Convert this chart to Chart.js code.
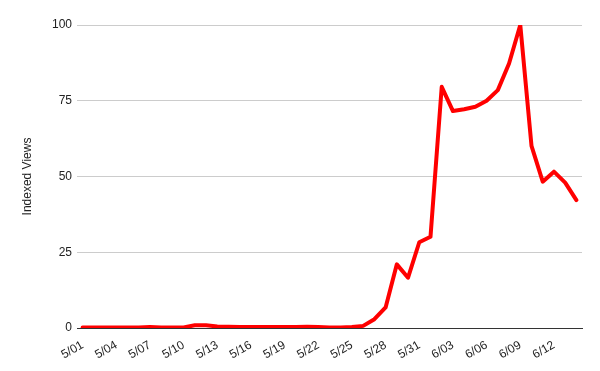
<!DOCTYPE html>
<html>
<head>
<meta charset="utf-8">
<script src="https://cdn.jsdelivr.net/npm/chart.js@4"></script>
<style>
  html, body { margin: 0; padding: 0; background: #fff; }
  #wrap { width: 600px; height: 371px; }
</style>
</head>
<body>
<div id="wrap"><canvas id="myChart" width="600" height="371"></canvas></div>
<script>
// dates, one per day
var dates = [
  "5/01", "5/02", "5/03", "5/04", "5/05", "5/06", "5/07", "5/08", "5/09", "5/10",
  "5/11", "5/12", "5/13", "5/14", "5/15", "5/16", "5/17", "5/18", "5/19", "5/20",
  "5/21", "5/22", "5/23", "5/24", "5/25", "5/26", "5/27", "5/28", "5/29", "5/30",
  "5/31", "6/01", "6/02", "6/03", "6/04", "6/05", "6/06", "6/07", "6/08", "6/09",
  "6/10", "6/11", "6/12", "6/13", "6/14"
];
// indexed views
var views = [
  0.2, 0.2, 0.2, 0.2, 0.2, 0.2, 0.3, 0.2, 0.2, 0.2,
  0.9, 0.9, 0.5, 0.4, 0.3, 0.3, 0.3, 0.3, 0.3, 0.3,
  0.4, 0.3, 0.2, 0.2, 0.3, 0.7, 2.9, 6.8, 21.0, 16.6,
  28.3, 30.1, 79.6, 71.6, 72.2, 73.0, 75.0, 78.5, 87.3, 100,
  60.1, 48.3, 51.6, 48.0, 42.2
];
var yTicks = [0, 25, 50, 75, 100];

var ctx = document.getElementById("myChart").getContext("2d");
var chart = new Chart(ctx, {
  type: "line",
  data: {
    labels: dates,
    datasets: [
      {
        label: "Indexed Views",
        data: views,
        borderColor: "#ff0000",
        backgroundColor: "#ff0000",
        borderWidth: 4,
        pointRadius: 0,
        tension: 0,
        borderJoinStyle: "round",
        borderCapStyle: "round",
      },
    ],
  },
  options: {
    responsive: false,
    animation: false,
    layout: { padding: { top: 25, right: 18, left: 0, bottom: 0 } },
    plugins: {
      legend: { display: false },
      tooltip: { enabled: false },
    },
    scales: {
      x: {
        offset: true,
        grid: { display: false },
        border: { display: true, color: "#333333", width: 1 },
        ticks: {
          autoSkip: false,
          minRotation: 30,
          maxRotation: 30,
          color: "#222222",
          font: { family: "Liberation Sans, Arial", size: 12 },
          padding: 2,
          callback: function (value, index) {
            return index % 3 === 0 ? dates[index] : "";
          },
        },
        afterFit: function (scale) {
          scale.height = 43;
        },
      },
      y: {
        min: 0,
        max: 100,
        afterBuildTicks: function (scale) {
          scale.ticks = yTicks.map(function (v) { return { value: v }; });
        },
        border: { display: false },
        grid: {
          color: function (c) {
            return c.tick && c.tick.value === 0 ? "#333333" : "#cccccc";
          },
          drawTicks: false,
        },
        ticks: {
          color: "#222222",
          padding: 5,
          font: { family: "Liberation Sans, Arial", size: 12 },
        },
        title: {
          display: true,
          text: "Indexed Views",
          color: "#222222",
          font: { family: "Liberation Sans, Arial", size: 12 },
          padding: { top: 20, bottom: 2 },
        },
        afterFit: function (scale) {
          scale.width = 77;
        },
      },
    },
  },
});
</script>
</body>
</html>
